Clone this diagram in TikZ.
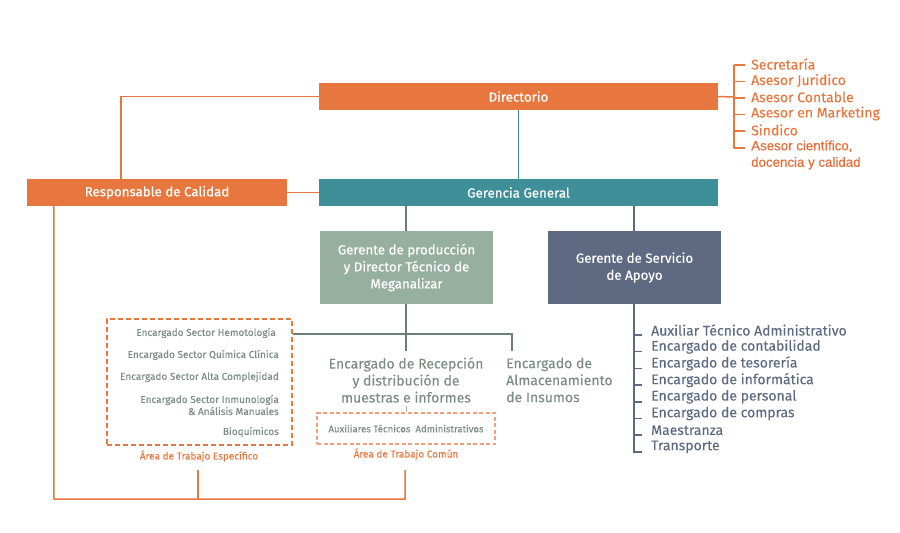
\documentclass[tikz,border=0pt]{standalone}
\usepackage{fontspec}
\setmainfont{Fira Sans}
\newfontfamily\arialfont[FakeBold=0.2]{Liberation Sans}
\newfontfamily\boxfont[FakeBold=0.5]{Fira Sans}
\newfontfamily\listfont[FakeBold=0.15]{Fira Sans}
\definecolor{cOrange}{HTML}{E8773F}
\definecolor{cRedOr}{HTML}{EA6A35}
\definecolor{cTeal}{HTML}{3F8F99}
\definecolor{cSage}{HTML}{97AF9F}
\definecolor{cSlate}{HTML}{5D6A82}
\definecolor{cGray}{HTML}{7D8D86}
\definecolor{cLine}{HTML}{6B7F75}
\definecolor{cLight}{HTML}{F0A07A}
\tikzset{
  topbox/.style={draw=none, fill=#1, text=white, inner sep=0pt, font=\boxfont\fontsize{13.3}{15}\selectfont},
  orgline/.style={line width=1.5pt, draw=#1},
  olist/.style={anchor=west, inner sep=0pt, text=cOrange, font=\listfont\fontsize{14}{16}\selectfont},
  slist/.style={anchor=west, inner sep=0pt, text=cSlate, font=\listfont\fontsize{14}{16}\selectfont},
  smalltxt/.style={anchor=east, inner sep=0pt, text=cGray, font=\listfont\fontsize{10}{12}\selectfont},
  arealbl/.style={inner sep=0pt, text=cOrange, font=\listfont\fontsize{10}{12}\selectfont},
}
\begin{document}
\begin{tikzpicture}[x=1pt,y=-1pt]
\useasboundingbox (0,0) rectangle (900,533);

% main boxes
\node[topbox=cOrange, minimum width=399pt, minimum height=27pt] (dir) at (518.5,96.5) {Directorio};
\node[topbox=cOrange, minimum width=260pt, minimum height=27pt] (resp) at (157,192.5) {Responsable de Calidad};
\node[topbox=cTeal, minimum width=399pt, minimum height=27pt] (gg) at (518.5,192.5) {Gerencia General};
\node[topbox=cSage, minimum width=173pt, minimum height=73pt, align=center, font=\boxfont\fontsize{13.3}{17}\selectfont] (prod) at (406.5,267.5) {Gerente de producción\\y Director Técnico de\\Meganalizar};
\node[topbox=cSlate, minimum width=173pt, minimum height=73pt, align=center, font=\boxfont\fontsize{13.3}{17}\selectfont] (serv) at (634.5,267.5) {Gerente de Servicio\\de Apoyo};

% top connectors
\draw[orgline=cOrange] (dir.west) -| ([xshift=-36pt]resp.north);
\draw[orgline=cTeal] (dir.south) -- (gg.north);
\draw[orgline=cOrange] (resp.east) -- (gg.west);
\draw[orgline=cLine] ([xshift=-0.5pt]prod.north) -- ([xshift=-0.5pt]prod.north |- gg.south);
\draw[orgline=cSlate] ([xshift=-0.5pt]serv.north) -- ([xshift=-0.5pt]serv.north |- gg.south);

% Directorio advisors
\coordinate (dbr) at (734,97);
\coordinate (dtop) at (734,65);
\coordinate (dbot) at (734,148);
\node[olist] (a1) at (751,64) {Secretaría};
\node[olist] (a2) at (751,80.5) {Asesor Juridico};
\node[olist] (a3) at (751,97) {Asesor Contable};
\node[olist] (a4) at (751,113.5) {Asesor en Marketing};
\node[olist] (a5) at (751,130) {Sindico};
\node[olist, align=left, text=cRedOr, font=\arialfont\fontsize{13.3}{16.5}\selectfont] (a6) at (751,155) {Asesor científico,\\docencia y calidad};
\draw[orgline=cOrange] (dir.east) -- (dbr);
\draw[orgline=cOrange] (dtop) -- (dbot);
\draw[orgline=cOrange] (dtop) -- (745,65);
\draw[orgline=cOrange] (734,81.5) -- (745,81.5);
\draw[orgline=cOrange] (734,98) -- (745,98);
\draw[orgline=cOrange] (734,114.5) -- (745,114.5);
\draw[orgline=cOrange] (734,131) -- (745,131);
\draw[orgline=cOrange] (dbot) -- (745,148);

% production area
\node[draw=cOrange, dashed, dash pattern=on 5pt off 3pt, line width=1.2pt, minimum width=185pt, minimum height=126pt, inner sep=0pt] (box1) at (199.5,382) {};
\node[smalltxt] (t1) at (276,333) {Encargado Sector Hemotología};
\node[smalltxt] (t2) at (279,355) {Encargado Sector Química Clínica};
\node[smalltxt] (t3) at (279,377) {Encargado Sector Alta Complejidad};
\node[smalltxt, align=right] (t4) at (279,405) {Encargado Sector Inmunología\\\& Análisis Manuales};
\node[smalltxt] (t5) at (279,432) {Bioquímicos};
\node[arealbl] (l1) at (199,456) {Área de Trabajo Específico};

\node[inner sep=0pt, text=cGray, align=center, font=\listfont\fontsize{14}{17}\selectfont] (rec) at (406,380) {Encargado de Recepción\\y distribución de\\muestras e informes};
\node[inner sep=0pt, text=cGray, align=left, anchor=west, font=\listfont\fontsize{14}{17}\selectfont] (alm) at (506,380) {Encargado de\\Almacenamiento\\de Insumos};
\node[draw=cLight, dashed, dash pattern=on 4pt off 2.5pt, line width=1.2pt, minimum width=178pt, minimum height=31pt, inner sep=0pt, text=cGray, font=\listfont\fontsize{9.6}{11}\selectfont] (box2) at (406,428.5) {Auxiliares Técnicos\ \ Administrativos};
\node[arealbl] (l2) at (406,454) {Área de Trabajo Común};

\coordinate (hb) at (406,334);
\coordinate (almtop) at (512,351);
\coordinate (rectop) at (406,351);
\draw[orgline=cLine] ([xshift=-0.5pt]prod.south) -- (rectop);
\draw[orgline=cLine] (hb -| box1.east) -| (almtop);
\draw[line width=0.8pt, draw=cGray!70] (406,406) -- (box2.north);

% bottom orange bracket
\coordinate (bl) at (54,499);
\coordinate (bm) at (198,499);
\coordinate (bmtop) at (198,470);
\coordinate (br) at (405,499);
\coordinate (brtop) at (405,470);
\draw[orgline=cOrange] ([xshift=27pt]resp.south west) -- (bl) -- (br) -- (brtop);
\draw[orgline=cOrange] (bm) -- (bmtop);

% service list
\node[slist] (s1) at (651,330) {Auxiliar Técnico Administrativo};
\node[slist] (s2) at (651,346.7) {Encargado de contabilidad};
\node[slist] (s3) at (651,363.4) {Encargado de tesorería};
\node[slist] (s4) at (651,380.1) {Encargado de informática};
\node[slist] (s5) at (651,396.8) {Encargado de personal};
\node[slist] (s6) at (651,413.5) {Encargado de compras};
\node[slist] (s7) at (651,430.2) {Maestranza};
\node[slist] (s8) at (651,446.9) {Transporte};
\coordinate (sbot) at (634,452);
\draw[orgline=cSlate] ([xshift=-0.5pt]serv.south) -- (sbot) -- (642,452);
\foreach \yy in {335,351.7,368.4,385.1,401.8,418.5,435.2}
  \draw[orgline=cSlate] (634,\yy) -- (642,\yy);
\end{tikzpicture}
\end{document}
